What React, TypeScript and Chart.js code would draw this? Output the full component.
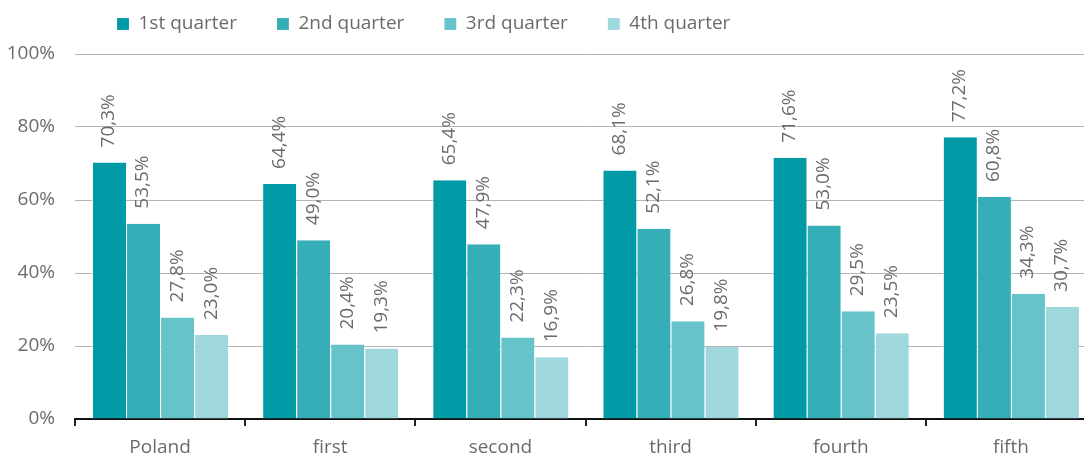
import React, { useEffect, useRef } from 'react';
import { Chart, registerables } from 'chart.js';

Chart.register(...registerables);

const categories = ['Poland', 'first', 'second', 'third', 'fourth', 'fifth'];
const seriesNames = ['1st quarter', '2nd quarter', '3rd quarter', '4th quarter'];
const q1 = [70.3, 64.4, 65.4, 68.1, 71.6, 77.2];
const q2 = [53.5, 49.0, 47.9, 52.1, 53.0, 60.8];
const q3 = [27.8, 20.4, 22.3, 26.8, 29.5, 34.3];
const q4 = [23.0, 19.3, 16.9, 19.8, 23.5, 30.7];
const seriesValues = [q1, q2, q3, q4];
const colors = ['#009aa6', '#35aeb8', '#67c3ca', '#9ed8dc'];
const yTicks = [0, 20, 40, 60, 80, 100];

const FONT = "'Open Sans', sans-serif";
const TEXT = '#6b6b6b';
const FS = 19;

const valueLabels = {
  id: 'valueLabels',
  afterDatasetsDraw(chart: any) {
    const ctx = chart.ctx;
    ctx.save();
    ctx.font = `${FS}px ${FONT}`;
    ctx.fillStyle = TEXT;
    ctx.textAlign = 'left';
    ctx.textBaseline = 'middle';
    chart.data.datasets.forEach((ds: any, i: number) => {
      const meta = chart.getDatasetMeta(i);
      meta.data.forEach((bar: any, j: number) => {
        const v = ds.data[j] as number;
        const txt = v.toFixed(1).replace('.', ',') + '%';
        ctx.save();
        ctx.translate(bar.x, bar.y - 15);
        ctx.rotate(-Math.PI / 2);
        ctx.fillText(txt, 0, 0);
        ctx.restore();
      });
    });
    ctx.restore();
  },
};

const legendPlace = {
  id: 'legendPlace',
  beforeLayout(chart: any) {
    const lg = chart.legend;
    if (lg && !lg.__patched) {
      const orig = lg.fit;
      lg.fit = function () {
        orig.call(this);
        this.height = 54;
      };
      lg.__patched = true;
    }
  },
  afterLayout(chart: any) {
    const lg = chart.legend;
    if (!lg) return;
    const pad = lg.options.labels.padding;
    lg.left = 117 - pad;
    lg.top = 14.5 - pad;
  },
};

export default function App() {
  const ref = useRef<HTMLCanvasElement>(null);
  useEffect(() => {
    const chart = new Chart(ref.current as HTMLCanvasElement, {
      type: 'bar',
      data: {
        labels: categories,
        datasets: seriesNames.map((name, i) => ({
          label: name,
          data: seriesValues[i],
          backgroundColor: colors[i],
          borderColor: 'rgba(255,255,255,0.6)',
          borderWidth: { left: 1, right: 0, top: 0, bottom: 0 },
          borderSkipped: false,
          categoryPercentage: 0.8,
          barPercentage: 1.0,
        })),
      },
      options: {
        responsive: false,
        animation: false,
        layout: { padding: 0 },
        font: { family: FONT },
        plugins: {
          tooltip: { enabled: false },
          legend: {
            display: true,
            position: 'top',
            align: 'start',
            labels: {
              color: TEXT,
              font: { family: FONT, size: FS },
              boxWidth: 12,
              boxHeight: 12,
              padding: 40,
            },
          },
        },
        scales: {
          x: {
            grid: {
              display: true,
              drawOnChartArea: false,
              drawTicks: true,
              tickLength: 7,
              color: '#222222',
              lineWidth: 2,
              offset: true,
            },
            border: { display: true, color: '#111111', width: 2 },
            ticks: { color: TEXT, font: { family: FONT, size: FS }, padding: 10 },
            afterFit: (s: any) => {
              s.height = 37;
            },
          },
          y: {
            min: 0,
            max: 100,
            afterBuildTicks: (s: any) => {
              s.ticks = yTicks.map((v) => ({ value: v }));
            },
            ticks: {
              color: TEXT,
              font: { family: FONT, size: FS },
              padding: 20,
              callback: (v: any) => v + '%',
            },
            grid: {
              color: '#b4b4b4',
              lineWidth: 1,
              drawTicks: false,
            },
            border: { display: false },
            afterFit: (s: any) => {
              s.width = 75;
            },
          },
        },
      } as any,
      plugins: [valueLabels, legendPlace],
    });
    return () => chart.destroy();
  }, []);

  return (
    <div
      style={{
        position: 'fixed',
        left: 0,
        top: 0,
        width: 1084,
        height: 456,
        overflow: 'hidden',
        background: '#ffffff',
      }}
    >
      <canvas ref={ref} width={1096} height={456} style={{ display: 'block' }} />
    </div>
  );
}
